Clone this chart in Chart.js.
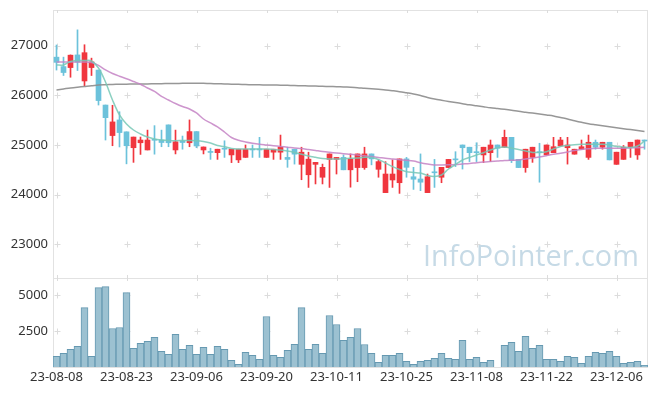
<!DOCTYPE html>
<html><head><meta charset="utf-8">
<script src="https://cdn.jsdelivr.net/npm/chart.js@4/dist/chart.umd.min.js"></script>
<style>
html,body{margin:0;padding:0;background:#fff;width:657px;height:396px;overflow:hidden}
#a{position:absolute;left:0;top:0}
#b{position:absolute;left:0;top:278px}
</style></head><body>
<canvas id="a" width="657" height="279"></canvas>
<canvas id="b" width="657" height="118"></canvas>
<script>
const dates = [
'23-08-08','23-08-09','23-08-10','23-08-11','23-08-14','23-08-16','23-08-17','23-08-18','23-08-21','23-08-22',
'23-08-23','23-08-24','23-08-25','23-08-28','23-08-29','23-08-30','23-08-31','23-09-01','23-09-04','23-09-05',
'23-09-06','23-09-07','23-09-08','23-09-11','23-09-12','23-09-13','23-09-14','23-09-15','23-09-18','23-09-19',
'23-09-20','23-09-21','23-09-22','23-09-25','23-09-26','23-09-27','23-10-04','23-10-05','23-10-06','23-10-10',
'23-10-11','23-10-12','23-10-13','23-10-16','23-10-17','23-10-18','23-10-19','23-10-20','23-10-23','23-10-24',
'23-10-25','23-10-26','23-10-27','23-10-30','23-10-31','23-11-01','23-11-02','23-11-03','23-11-06','23-11-07',
'23-11-08','23-11-09','23-11-10','23-11-13','23-11-14','23-11-15','23-11-16','23-11-17','23-11-20','23-11-21',
'23-11-22','23-11-23','23-11-24','23-11-27','23-11-28','23-11-29','23-11-30','23-12-01','23-12-04','23-12-05',
'23-12-06','23-12-07','23-12-08','23-12-11','23-12-12'];

const openP = [26770,26580,26560,26815,26290,26560,26510,25805,25190,25505,
25265,24945,25045,24900,25105,25100,25405,24900,25080,25045,
25270,24900,24865,24845,24935,24800,24700,24750,24920,24920,
24750,24855,24855,24750,24915,24610,24400,24610,24350,24710,
24710,24750,24500,24545,24545,24820,24510,24040,24295,24240,
24720,24360,24315,24040,24460,24350,24545,24710,25000,24955,
24865,24800,24845,25000,24955,25155,24710,24545,24750,24865,
24800,24845,24980,24945,24815,24915,24750,25055,24955,25055,
24610,24710,24955,24800,25100];
const highP = [27015,26770,26815,27320,27020,26750,26510,25805,25800,25670,
25265,25160,25160,25300,25390,25300,25405,25300,25180,25505,
25270,24960,24935,24915,25085,24915,24915,25000,25000,25155,
24915,24915,25200,24955,24915,24955,24855,24650,24615,24820,
24750,24800,24820,24820,24955,24820,24700,24665,24700,24720,
24750,24550,24820,24415,24710,24550,24710,24865,25000,24955,
25045,24955,25100,25000,25300,25155,24710,24915,24955,25035,
25000,25155,25155,25155,24915,25100,25200,25100,25055,25055,
24855,24990,25055,25100,25100];
const lowP = [26510,26400,26365,26500,26195,26400,25805,25100,24985,24960,
24620,24650,24810,24900,24815,24965,24965,24820,24915,24965,
24945,24820,24710,24710,24750,24645,24645,24750,24750,24750,
24750,24710,24710,24550,24615,24300,24145,24215,24215,24145,
24415,24500,24150,24260,24510,24600,24350,24040,24145,24025,
24350,24105,24080,24040,24145,24240,24545,24565,24515,24665,
24665,24645,24665,24750,24955,24645,24545,24450,24650,24250,
24800,24845,24980,24615,24815,24915,24710,24915,24915,24700,
24610,24710,24750,24710,24915];
const closeP = [26665,26460,26810,26670,26860,26675,25895,25550,25465,25250,
24985,25160,25100,25100,25095,25050,25045,25065,25050,25270,
24980,24960,24850,24915,24915,24915,24915,24915,24900,24900,
24915,24915,24955,24710,24815,24855,24715,24650,24550,24820,
24750,24500,24720,24820,24820,24720,24665,24415,24415,24720,
24550,24310,24250,24360,24440,24550,24710,24700,24945,24845,
24845,24955,25000,24935,25155,24685,24545,24915,24955,24845,
25000,24965,25100,25000,24915,24965,25055,24955,25055,24700,
24855,24955,25055,25100,25080];

const ma5 = [26613,26613,26683,26703,26703,26693,26552,26270,25907,25605,
25423,25302,25222,25161,25121,25101,25091,25087,25091,25091,
25087,25071,25040,24990,24966,24929,24919,24919,24919,24919,
24919,24909,24899,24879,24849,24813,24778,24752,24728,24718,
24718,24724,24732,24738,24752,24748,24708,24637,24567,24506,
24462,24446,24435,24385,24365,24395,24516,24607,24698,24748,
24798,24845,24899,24944,24960,24940,24909,24879,24849,24849,
24865,24919,24970,24990,25006,25014,25014,25014,25014,25000,
24970,24960,24950,24980,25081];
const ma20 = [26673,26673,26673,26673,26673,26663,26603,26512,26441,26385,
26335,26280,26224,26149,26079,25978,25907,25837,25776,25726,
25645,25524,25444,25363,25262,25151,25095,25060,25034,25014,
25000,24986,24970,24956,24940,24929,24909,24889,24869,24853,
24839,24825,24813,24798,24782,24766,24750,24732,24718,24704,
24692,24677,24643,24617,24597,24597,24601,24607,24617,24627,
24643,24657,24667,24677,24688,24694,24698,24718,24738,24758,
24784,24813,24833,24859,24889,24909,24923,24933,24933,24933,
24933,24933,24940,24946,24954];
const ma120 = [26109,26129,26149,26165,26179,26193,26210,26216,26220,26224,
26226,26228,26230,26230,26234,26236,26238,26240,26242,26244,
26244,26242,26238,26234,26230,26226,26222,26218,26214,26212,
26210,26208,26206,26202,26197,26195,26191,26187,26183,26179,
26175,26169,26163,26155,26143,26133,26121,26109,26093,26075,
26052,26028,25998,25958,25927,25901,25877,25855,25833,25810,
25790,25770,25750,25734,25718,25700,25679,25661,25643,25625,
25605,25585,25554,25524,25490,25458,25429,25407,25387,25367,
25347,25329,25310,25292,25272];

const volume = [740,950,1225,1435,4140,740,5530,5600,2680,2750,
5180,1300,1645,1785,2060,1090,880,2270,1225,1505,
880,1365,880,1435,1225,465,185,1020,810,535,
3520,810,675,1160,1575,4140,1225,1575,950,3585,
2960,1850,2060,2680,1570,950,325,810,810,950,
395,185,395,465,600,950,600,535,1850,535,
675,325,465,0,1505,1715,1090,2130,1300,1505,
535,535,395,740,675,255,740,1020,950,1090,
740,255,325,395,120];

const priceTicks = [23000,24000,25000,26000,27000];
const volumeTicks = [2500,5000];

const RED = '#f0363e', BLUE = '#6cc2db';
const candleColor = c => closeP[c.dataIndex] >= openP[c.dataIndex] ? RED : BLUE;
const FONT = {family:'"Noto Sans", "DejaVu Sans", sans-serif', size:13};
const plain = v => String(v);
const noPad = s => { s.paddingTop = 0; s.paddingBottom = 0; s.paddingLeft = 0; s.paddingRight = 0; };

const frame = {
  id:'frame',
  beforeDatasetsDraw(chart){
    const {ctx, chartArea:a, scales} = chart;
    const xs = [];
    for (let i=0;i<dates.length;i+=10) xs.push(Math.round(scales.x.getPixelForValue(i)) + 0.5);
    const ys = scales.y.ticks.map(t => Math.round(scales.y.getPixelForValue(t.value)) + 0.5);
    ctx.save();
    ctx.strokeStyle = '#e2e2e2'; ctx.lineWidth = 1;
    ctx.strokeRect(Math.round(a.left)+0.5, Math.round(a.top)+0.5, Math.round(a.right-a.left)-1, Math.round(a.bottom-a.top));
    ctx.strokeStyle = '#dcdcdc';
    ctx.beginPath();
    xs.forEach(x => {
      ys.forEach(y => { ctx.moveTo(x-3,y); ctx.lineTo(x+3,y); ctx.moveTo(x,y-3); ctx.lineTo(x,y+3); });
      ctx.moveTo(x, a.top); ctx.lineTo(x, a.top+3);
      ctx.moveTo(x, a.bottom-3); ctx.lineTo(x, a.bottom);
    });
    ctx.stroke();
    if (chart.options.plugins.frame && chart.options.plugins.frame.watermark) {
      const text = 'InfoPointer.com';
      let size = 30;
      ctx.font = size + 'px "Open Sans", "Noto Sans", sans-serif';
      const w = ctx.measureText(text).width;
      size = size * 216 / w;
      ctx.font = size + 'px "Open Sans", "Noto Sans", sans-serif';
      ctx.fillStyle = '#c6dae6';
      ctx.textBaseline = 'alphabetic';
      ctx.fillText(text, 423, 266);
    }
    ctx.restore();
  }
};

Chart.register(frame);

new Chart(document.getElementById('a'), {
  data: {
    labels: dates,
    datasets: [
      {type:'line', data: ma5, borderColor:'rgba(120,200,182,0.85)', borderWidth:1.5, pointRadius:0, tension:0.35, order:0},
      {type:'line', data: ma20, borderColor:'rgba(196,130,196,0.85)', borderWidth:1.5, pointRadius:0, tension:0.35, order:0},
      {type:'line', data: ma120, borderColor:'rgba(140,140,140,0.9)', borderWidth:1.5, pointRadius:0, tension:0.35, order:0},
      {type:'bar', data: openP.map((o,i)=>[o, closeP[i]]), backgroundColor: candleColor, barThickness:5, minBarLength:1, grouped:false, order:1},
      {type:'bar', data: lowP.map((l,i)=>[l, highP[i]]), backgroundColor: candleColor, barThickness:1, grouped:false, order:2}
    ]
  },
  options: {
    responsive:false, animation:false,
    layout:{padding:{top:10, right:9, bottom:1, left:0}},
    plugins:{legend:{display:false}, tooltip:{enabled:false}, frame:{watermark:true}},
    scales:{
      x:{type:'category', offset:true, display:false},
      y:{min:22320, max:27720,
         afterBuildTicks: s => { s.ticks = priceTicks.map(v => ({value:v})); },
         afterFit: s => { s.width = 53; noPad(s); },
         grid:{display:false, drawTicks:false}, border:{display:false},
         ticks:{padding:5, color:'#333', font:FONT, callback: plain}}
    }
  }
});

new Chart(document.getElementById('b'), {
  type:'bar',
  data: {
    labels: dates,
    datasets: [{data: volume, backgroundColor:'#9cc1d1', borderColor:'#6699b1', borderWidth:1, barPercentage:1, categoryPercentage:1}]
  },
  options: {
    responsive:false, animation:false,
    layout:{padding:{top:0, right:9, bottom:0, left:0}},
    plugins:{legend:{display:false}, tooltip:{enabled:false}, frame:{watermark:false}},
    scales:{
      x:{type:'category', offset:true,
         afterBuildTicks: s => { s.ticks = s.ticks.filter(t => t.value % 10 === 0); },
         afterFit: s => { s.height = 29; noPad(s); },
         grid:{display:false, drawTicks:false}, border:{display:false},
         ticks:{autoSkip:false, maxRotation:0, minRotation:0, padding:2, color:'#333', font:FONT}},
      y:{min:0, max:6200,
         afterBuildTicks: s => { s.ticks = volumeTicks.map(v => ({value:v})); },
         afterFit: s => { s.width = 53; noPad(s); },
         grid:{display:false, drawTicks:false}, border:{display:false},
         ticks:{padding:5, color:'#333', font:FONT, callback: plain}}
    }
  }
});
</script>
</body></html>
